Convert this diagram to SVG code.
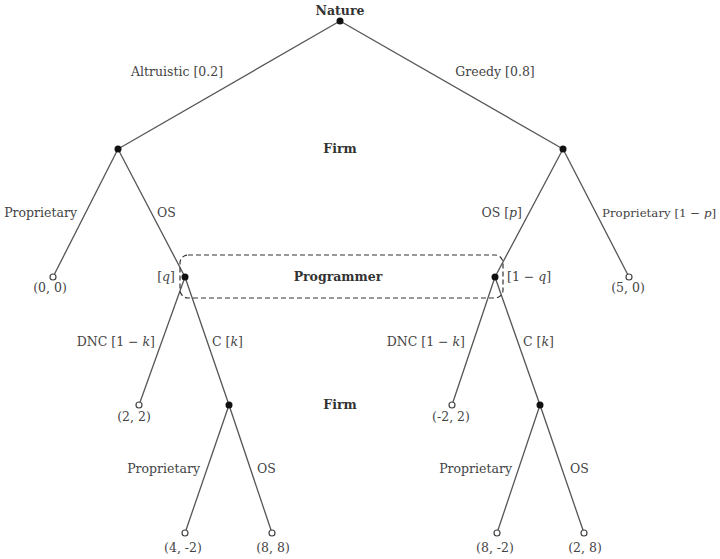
<svg xmlns="http://www.w3.org/2000/svg" width="720" height="559" viewBox="0 0 720 559">
<style>
text{font-family:"DejaVu Serif","Liberation Serif",serif;font-size:12.5px;fill:#444}
.b{font-weight:bold;fill:#333}
.e{text-anchor:end}
.m{text-anchor:middle}
.s{font-size:11.8px}
.edge{stroke:#555;stroke-width:1.3;fill:none}
.dec{fill:#111}
.leaf{fill:#fff;stroke:#444;stroke-width:1.2}
</style>
<rect width="720" height="559" fill="#fff"/>
<g id="connectors">
<line class="edge" x1="340" y1="21" x2="118" y2="149"/>
<line class="edge" x1="340" y1="21" x2="563" y2="149"/>
<line class="edge" x1="118" y1="149" x2="53" y2="277"/>
<line class="edge" x1="118" y1="149" x2="185" y2="277"/>
<line class="edge" x1="563" y1="149" x2="495" y2="277"/>
<line class="edge" x1="563" y1="149" x2="629" y2="277"/>
<line class="edge" x1="185" y1="277" x2="139" y2="405"/>
<line class="edge" x1="185" y1="277" x2="229" y2="405"/>
<line class="edge" x1="495" y1="277" x2="452" y2="405"/>
<line class="edge" x1="495" y1="277" x2="540" y2="405"/>
<line class="edge" x1="229" y1="405" x2="185" y2="533"/>
<line class="edge" x1="229" y1="405" x2="272" y2="533"/>
<line class="edge" x1="540" y1="405" x2="497" y2="533"/>
<line class="edge" x1="540" y1="405" x2="584" y2="533"/>
<rect x="180" y="255" width="323" height="43" rx="8" fill="none" stroke="#333" stroke-width="1.2" stroke-dasharray="5 3"/>
<text x="177" y="76" class="m">Altruistic [0.2]</text>
<text x="495" y="76" class="m">Greedy [0.8]</text>
<text x="77" y="217" class="e">Proprietary</text>
<text x="157" y="217">OS</text>
<text x="522" y="217" class="e">OS [<tspan font-style="italic">p</tspan>]</text>
<text x="602" y="217" class="s">Proprietary [1 − <tspan font-style="italic">p</tspan>]</text>
<text x="155" y="346" class="e">DNC [1 − <tspan font-style="italic">k</tspan>]</text>
<text x="212" y="346">C [<tspan font-style="italic">k</tspan>]</text>
<text x="465" y="346" class="e">DNC [1 − <tspan font-style="italic">k</tspan>]</text>
<text x="523" y="346">C [<tspan font-style="italic">k</tspan>]</text>
<text x="200" y="473" class="e">Proprietary</text>
<text x="257" y="473">OS</text>
<text x="512" y="473" class="e">Proprietary</text>
<text x="570" y="473">OS</text>
</g>
<g id="nature"><circle class="dec" cx="340" cy="21" r="3.5"/><text x="340" y="15" class="m b">Nature</text></g>
<g id="firm1"><circle class="dec" cx="118" cy="149" r="3.5"/></g>
<g id="firm2"><circle class="dec" cx="563" cy="149" r="3.5"/></g>
<g id="firm-label"><text x="340" y="153" class="m b">Firm</text></g>
<g id="leaf-00"><circle class="leaf" cx="53" cy="277" r="3"/><text x="50" y="292" class="m">(0, 0)</text></g>
<g id="leaf-50"><circle class="leaf" cx="629" cy="277" r="3"/><text x="628" y="292" class="m">(5, 0)</text></g>
<g id="prog1"><circle class="dec" cx="185" cy="277" r="3.5"/><text x="175" y="281" class="e">[<tspan font-style="italic">q</tspan>]</text></g>
<g id="prog2"><circle class="dec" cx="495" cy="277" r="3.5"/><text x="507" y="281">[1 − <tspan font-style="italic">q</tspan>]</text></g>
<g id="programmer-label"><text x="338" y="281" class="m b">Programmer</text></g>
<g id="leaf-22"><circle class="leaf" cx="139" cy="405" r="3"/><text x="134" y="421" class="m">(2, 2)</text></g>
<g id="leaf-m22"><circle class="leaf" cx="452" cy="405" r="3"/><text x="451" y="421" class="m">(-2, 2)</text></g>
<g id="firm3"><circle class="dec" cx="229" cy="405" r="3.5"/></g>
<g id="firm4"><circle class="dec" cx="540" cy="405" r="3.5"/></g>
<g id="firm-label2"><text x="340" y="409" class="m b">Firm</text></g>
<g id="leaf-4m2"><circle class="leaf" cx="185" cy="533" r="3"/><text x="183" y="552" class="m">(4, -2)</text></g>
<g id="leaf-88"><circle class="leaf" cx="272" cy="533" r="3"/><text x="273" y="552" class="m">(8, 8)</text></g>
<g id="leaf-8m2"><circle class="leaf" cx="497" cy="533" r="3"/><text x="495" y="552" class="m">(8, -2)</text></g>
<g id="leaf-28"><circle class="leaf" cx="584" cy="533" r="3"/><text x="585" y="552" class="m">(2, 8)</text></g>
</svg>
